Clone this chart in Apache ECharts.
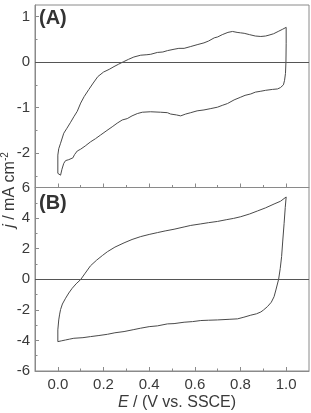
<!DOCTYPE html>
<html><head><meta charset="utf-8">
<script src="https://cdn.jsdelivr.net/npm/echarts@6/dist/echarts.min.js"></script>
<style>html,body{margin:0;padding:0;background:#fff}#c{width:311px;height:413px}</style>
</head><body><div id="c"></div>
<script>
// Panel A: anodic (forward) branch then reverse/cathodic branch
var aForwardE = [0.000,0.004,0.012,0.026,0.040,0.056,0.070,0.085,0.100,0.115,0.136,0.155,0.175,0.200,0.225,0.246,0.265,0.289,0.310,0.333,0.363,0.390,0.407,0.436,0.460,0.480,0.509,0.530,0.553,0.582,0.610,0.640,0.660,0.685,0.700,0.720,0.745,0.765,0.785,0.800,0.816,0.840,0.865,0.889,0.910,0.925,0.945,0.965,0.985,1.000];
var aForwardJ = [-2.04,-1.90,-1.78,-1.56,-1.45,-1.32,-1.20,-1.08,-0.90,-0.76,-0.60,-0.46,-0.32,-0.22,-0.16,-0.10,-0.05,0.01,0.06,0.11,0.15,0.16,0.17,0.21,0.22,0.25,0.28,0.30,0.30,0.34,0.38,0.42,0.46,0.53,0.55,0.60,0.65,0.67,0.65,0.64,0.63,0.60,0.57,0.56,0.57,0.59,0.62,0.67,0.72,0.76];
var aReverseE = [1.000,0.999,0.997,0.993,0.988,0.975,0.962,0.940,0.910,0.889,0.865,0.845,0.820,0.801,0.772,0.743,0.720,0.699,0.670,0.640,0.610,0.582,0.560,0.538,0.520,0.494,0.480,0.450,0.406,0.370,0.348,0.325,0.304,0.282,0.260,0.238,0.215,0.187,0.165,0.143,0.120,0.100,0.085,0.073,0.066,0.058,0.048,0.040,0.034,0.026,0.018,0.012,0.006,0.000,0.000];
var aReverseJ = [0.40,0.00,-0.25,-0.40,-0.50,-0.56,-0.59,-0.60,-0.62,-0.64,-0.66,-0.70,-0.73,-0.77,-0.83,-0.91,-0.95,-0.99,-1.02,-1.05,-1.07,-1.11,-1.14,-1.18,-1.16,-1.14,-1.11,-1.10,-1.09,-1.10,-1.13,-1.18,-1.24,-1.27,-1.34,-1.42,-1.50,-1.60,-1.68,-1.75,-1.84,-1.91,-1.95,-2.03,-2.10,-2.07,-2.14,-2.10,-2.16,-2.22,-2.35,-2.48,-2.47,-2.44,-2.04];

// Panel B
var bForwardE = [0.000,0.000,0.004,0.008,0.012,0.020,0.034,0.048,0.063,0.080,0.100,0.120,0.143,0.170,0.195,0.217,0.250,0.290,0.325,0.363,0.400,0.436,0.470,0.509,0.553,0.582,0.626,0.660,0.699,0.740,0.770,0.801,0.840,0.875,0.910,0.947,0.975,1.000];
var bForwardJ = [-4.08,-3.31,-2.66,-2.28,-1.98,-1.62,-1.24,-0.90,-0.59,-0.30,-0.02,0.40,0.88,1.25,1.55,1.80,2.10,2.38,2.60,2.79,2.93,3.05,3.16,3.27,3.42,3.52,3.62,3.70,3.78,3.90,3.98,4.09,4.27,4.47,4.67,4.92,5.10,5.38];
var bReverseE = [0.996,0.991,0.985,0.980,0.974,0.967,0.955,0.947,0.935,0.918,0.900,0.889,0.870,0.845,0.815,0.787,0.750,0.699,0.660,0.626,0.590,0.553,0.509,0.480,0.436,0.400,0.363,0.330,0.290,0.250,0.217,0.180,0.143,0.110,0.070,0.050,0.034,0.015,0.000];
var bReverseJ = [4.70,3.66,2.50,1.48,0.70,0.00,-0.70,-1.14,-1.50,-1.79,-2.02,-2.14,-2.26,-2.35,-2.48,-2.59,-2.62,-2.66,-2.68,-2.70,-2.77,-2.81,-2.90,-2.92,-3.05,-3.10,-3.20,-3.30,-3.42,-3.50,-3.60,-3.68,-3.75,-3.82,-3.86,-3.92,-3.97,-4.03,-4.08];

// Tick values
var xMajorTicks = [0.0,0.2,0.4,0.6,0.8,1.0];
var xMinorTicks = [0.1,0.3,0.5,0.7,0.9];
var aYMajorTicks = [-2,-1,0,1];
var aYMinorTicks = [-2.5,-1.5,-0.5,0.5];
var bYMajorTicks = [-6,-4,-2,0,2,4,6];
var bYMinorTicks = [-5,-3,-1,1,3,5];

function pairs(e1,j1,e2,j2){var d=[];for(var i=0;i<e1.length;i++)d.push([e1[i],j1[i]]);for(var k=0;k<e2.length;k++)d.push([e2[k],j2[k]]);return d;}

var FONT = '"Liberation Sans", Arial, sans-serif';
var frame = '#8a8a8a';
var txt = '#3a3a3a';

function xAx(grid, ticks, len, showLine, showLabel){
  return {gridIndex:grid,type:'value',min:-0.1,max:1.1,position:'bottom',
    axisLine:{show:showLine,onZero:false,lineStyle:{color:frame,width:1}},
    axisTick:{show:true,inside:true,length:len,customValues:ticks,lineStyle:{color:frame}},
    axisLabel:{show:showLabel,customValues:ticks,margin:6,color:txt,fontSize:15,fontFamily:FONT,formatter:function(v){return v.toFixed(1);}},
    splitLine:{show:false}};
}
function yAx(grid, min, max, ticks, len, showLine, showLabel){
  return {gridIndex:grid,type:'value',min:min,max:max,position:'left',
    axisLine:{show:showLine,onZero:false,lineStyle:{color:frame,width:1}},
    axisTick:{show:true,inside:true,length:len,customValues:ticks,lineStyle:{color:frame}},
    axisLabel:{show:showLabel,customValues:ticks,margin:5,color:txt,fontSize:15,fontFamily:FONT,formatter:function(v){return String(v);}},
    splitLine:{show:false}};
}

var lineColor = '#4a4a4a';
function cvSeries(xi, yi, data){
  return {type:'line',xAxisIndex:xi,yAxisIndex:yi,data:data,showSymbol:false,symbol:'none',
    lineStyle:{color:lineColor,width:1},smooth:false,silent:true,
    markLine:{silent:true,symbol:['none','none'],label:{show:false},
      lineStyle:{color:'#555',type:'solid',width:1},data:[{yAxis:0}]}};
}

var chart = echarts.init(document.getElementById('c'), null, {renderer:'canvas'});
chart.setOption({
  animation:false,
  backgroundColor:'#fff',
  grid:[
    {left:35,top:5,width:274,height:182.5,show:true,borderColor:frame,borderWidth:1,containLabel:false},
    {left:35,top:187.5,width:274,height:183.5,show:true,borderColor:frame,borderWidth:1,containLabel:false}
  ],
  xAxis:[
    xAx(0,xMajorTicks,4,true,false),
    xAx(0,xMinorTicks,2.5,false,false),
    xAx(1,xMajorTicks,4,true,true),
    xAx(1,xMinorTicks,2.5,false,false)
  ],
  yAxis:[
    yAx(0,-2.75,1.25,aYMajorTicks,4,true,true),
    yAx(0,-2.75,1.25,aYMinorTicks,2.5,false,false),
    yAx(1,-6,6,bYMajorTicks,4,true,true),
    yAx(1,-6,6,bYMinorTicks,2.5,false,false)
  ],
  series:[
    cvSeries(0,0,pairs(aForwardE,aForwardJ,aReverseE,aReverseJ)),
    cvSeries(2,2,pairs(bForwardE,bForwardJ,bReverseE,bReverseJ))
  ],
  graphic:[
    {type:'text',left:39,top:8,style:{text:'(A)',font:'bold 20px '+FONT,fill:'#333'}},
    {type:'text',left:39,top:193,style:{text:'(B)',font:'bold 20px '+FONT,fill:'#333'}},
    {type:'text',x:177,y:403,style:{text:'{i|E} / (V vs. SSCE)',align:'center',verticalAlign:'middle',
      fontSize:16,fontFamily:FONT,fill:txt,rich:{i:{fontStyle:'italic',fontSize:16,fontFamily:FONT,fill:txt}}}},
    {type:'text',x:10,y:190,rotation:Math.PI/2,style:{text:'{i|j} / mA cm{s|-2}',align:'center',verticalAlign:'middle',
      fontSize:16,fontFamily:FONT,fill:txt,rich:{i:{fontStyle:'italic',fontSize:16,fontFamily:FONT,fill:txt},
      s:{fontSize:10,fontFamily:FONT,fill:txt,verticalAlign:'bottom',padding:[0,0,9,0]}}}}
  ]
});
</script></body></html>
